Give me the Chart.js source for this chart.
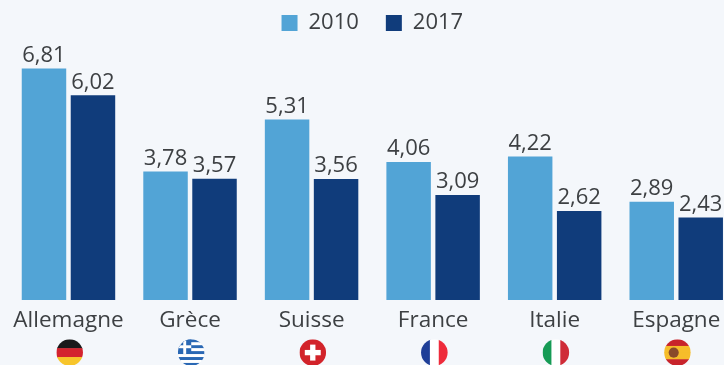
<!DOCTYPE html>
<html>
<head>
<meta charset="utf-8">
<script src="https://cdn.jsdelivr.net/npm/chart.js@4"></script>
<style>
  html, body { margin: 0; width: 724px; height: 365px; overflow: hidden; background: #f4f7fb; }
  #wrap { width: 746px; height: 365px; filter: blur(0.55px); }
</style>
</head>
<body>
<div id="wrap"><canvas id="chart" width="746" height="365"></canvas></div>
<script>
const countries = ['Allemagne', 'Grèce', 'Suisse', 'France', 'Italie', 'Espagne'];
const values2010 = [6.81, 3.78, 5.31, 4.06, 4.22, 2.89];
const values2017 = [6.02, 3.57, 3.56, 3.09, 2.62, 2.43];

const textColor = '#3d4043';
const fontFamily = '"Open Sans", sans-serif';

// stripes of each flag, top to bottom or left to right
function stripes(ctx, x, y, r, colors, vertical) {
  const size = (2 * r) / colors.length;
  colors.forEach((c, i) => {
    ctx.fillStyle = c;
    if (vertical) ctx.fillRect(x - r + i * size, y - r, size + 0.5, 2 * r);
    else ctx.fillRect(x - r, y - r + i * size, 2 * r, size + 0.5);
  });
}

const flags = [
  (ctx, x, y, r) => stripes(ctx, x, y, r, ['#1a1a1a', '#d3232e', '#f7c52b']),
  (ctx, x, y, r) => {
    stripes(ctx, x, y, r, ['#2a68b4', '#fff', '#2a68b4', '#fff', '#2a68b4', '#fff', '#2a68b4', '#fff', '#2a68b4']);
    ctx.fillStyle = '#2a68b4';
    ctx.fillRect(x - r, y - r, r, r * 1.1);
    ctx.fillStyle = '#fff';
    ctx.fillRect(x - r, y - r * 0.55, r, r * 0.22);
    ctx.fillRect(x - r * 0.6, y - r, r * 0.22, r * 1.1);
  },
  (ctx, x, y, r) => {
    ctx.fillStyle = '#d2232a';
    ctx.fillRect(x - r, y - r, 2 * r, 2 * r);
    ctx.fillStyle = '#fff';
    ctx.fillRect(x - r * 0.6, y - r * 0.2, r * 1.2, r * 0.4);
    ctx.fillRect(x - r * 0.2, y - r * 0.6, r * 0.4, r * 1.2);
  },
  (ctx, x, y, r) => stripes(ctx, x, y, r, ['#1f3f98', '#fff', '#ee2b3b'], true),
  (ctx, x, y, r) => stripes(ctx, x, y, r, ['#169b55', '#fff', '#cf2b37'], true),
  (ctx, x, y, r) => {
    stripes(ctx, x, y, r, ['#c8242b', '#f6bd2a', '#f6bd2a', '#c8242b']);
    ctx.fillStyle = '#8a4a2a';
    ctx.beginPath();
    ctx.arc(x - r * 0.28, y, r * 0.38, 0, Math.PI * 2);
    ctx.fill();
  }
];

const barLabelsAndFlags = {
  id: 'barLabelsAndFlags',
  afterDatasetsDraw(chart) {
    const ctx = chart.ctx;
    ctx.save();
    ctx.font = '22px ' + fontFamily;
    ctx.fillStyle = textColor;
    ctx.textAlign = 'center';
    ctx.textBaseline = 'alphabetic';
    chart.data.datasets.forEach((ds, i) => {
      chart.getDatasetMeta(i).data.forEach((bar, j) => {
        ctx.fillText(ds.data[j].toFixed(2).replace('.', ','), bar.x, bar.y - 6.5);
      });
    });
    ctx.restore();

    const xScale = chart.scales.x;
    flags.forEach((draw, i) => {
      const x = xScale.getPixelForTick(i) + 1.2;
      const y = 352.6, r = 13.3;
      ctx.save();
      ctx.beginPath();
      ctx.arc(x, y, r, 0, Math.PI * 2);
      ctx.clip();
      draw(ctx, x, y, r);
      ctx.restore();
    });
  }
};

new Chart(document.getElementById('chart').getContext('2d'), {
  type: 'bar',
  data: {
    labels: countries,
    datasets: [
      { label: '2010', data: values2010, backgroundColor: '#52a4d6', categoryPercentage: 0.806, barPercentage: 0.908 },
      { label: '2017', data: values2017, backgroundColor: '#103c7b', categoryPercentage: 0.806, barPercentage: 0.908 }
    ]
  },
  options: {
    responsive: false,
    animation: false,
    layout: { padding: { left: 7.7, right: 9, top: -15, bottom: 0 } },
    plugins: {
      tooltip: { enabled: false },
      legend: {
        position: 'top',
        labels: {
          boxWidth: 16,
          boxHeight: 16,
          padding: 27,
          color: textColor,
          font: { family: fontFamily, size: 22 }
        }
      }
    },
    scales: {
      x: {
        grid: { display: false },
        border: { display: false },
        ticks: { color: textColor, font: { family: fontFamily, size: 22.5 }, padding: -1, maxRotation: 0, autoSkip: false },
        afterFit(scale) { scale.height = 65; }
      },
      y: { display: false, min: 0, max: 7.53 }
    }
  },
  plugins: [barLabelsAndFlags]
});
</script>
</body>
</html>
